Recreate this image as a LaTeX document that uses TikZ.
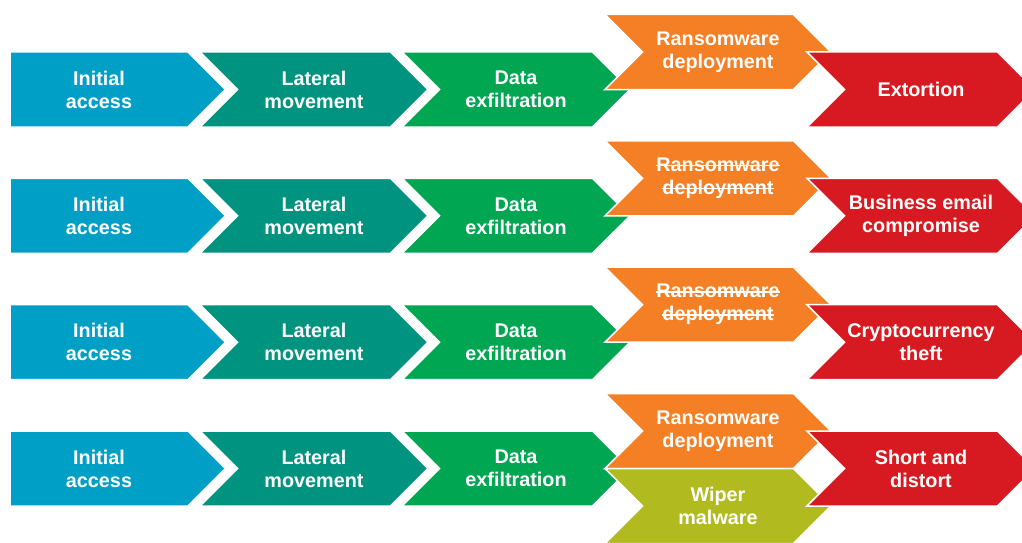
\documentclass[tikz,border=0pt]{standalone}
\usepackage{fontspec}
\setmainfont{Liberation Sans}
\usetikzlibrary{shapes.symbols,positioning}
\definecolor{accessblue}{HTML}{00A0C6}
\definecolor{lateralteal}{HTML}{009480}
\definecolor{exfilgreen}{HTML}{00A651}
\definecolor{ransomorange}{HTML}{F47F24}
\definecolor{impactred}{HTML}{D71A21}
\definecolor{wiperolive}{HTML}{B1BB1F}
\newsavebox{\strikebox}
\newcommand{\struck}[1]{\sbox{\strikebox}{#1}\rlap{\rule[5.2pt]{\wd\strikebox}{1.6pt}}\usebox{\strikebox}}

\begin{document}
\begin{tikzpicture}[
            x=1pt, y=-1pt,
            stage/.style={signal, signal to=east, signal from=west, signal pointer angle=90, minimum height=75pt, minimum width=228pt, inner sep=0pt, outer sep=0pt, draw=white, line width=1.5pt, text=white, align=center, font=\bfseries\fontsize{19.8}{23}\selectfont},
            startstage/.style={stage, signal from=nowhere, minimum width=0pt, text width=178pt, fill=accessblue},
            lateral/.style={stage, fill=lateralteal},
            exfil/.style={stage, fill=exfilgreen},
            ransom/.style={stage, minimum width=226pt, fill=ransomorange},
            wiper/.style={stage, minimum width=226pt, fill=wiperolive},
            impact/.style={stage, fill=impactred}
        ]
        \useasboundingbox (0,0) rectangle (1022,543);
        
        % row 1
        \node[startstage] (init1) at (99,89.5) {Initial\\access};
        \node[lateral] (lat1) at (314,89.5) {Lateral\\movement};
        \node[exfil] (data1) at (516,89.5) {Data\\exfiltration};
        \node[ransom] (ransom1) at (718,52) {Ransomware\\deployment};
        \node[impact] (extortion) at (921,89.5) {Extortion};
        
        % row 2
        \node[startstage] (init2) at (99,215.8) {Initial\\access};
        \node[lateral] (lat2) at (314,215.8) {Lateral\\movement};
        \node[exfil] (data2) at (516,215.8) {Data\\exfiltration};
        \node[ransom] (ransom2) at (718,178.3) {\struck{Ransomware}\\\struck{deployment}};
        \node[impact] (bec) at (921,215.8) {Business email\\compromise};
        
        % row 3
        \node[startstage] (init3) at (99,342.2) {Initial\\access};
        \node[lateral] (lat3) at (314,342.2) {Lateral\\movement};
        \node[exfil] (data3) at (516,342.2) {Data\\exfiltration};
        \node[ransom] (ransom3) at (718,304.7) {\struck{Ransomware}\\\struck{deployment}};
        \node[impact] (crypto) at (921,342.2) {Cryptocurrency\\theft};
        
        % row 4
        \node[startstage] (init4) at (99,468.5) {Initial\\access};
        \node[lateral] (lat4) at (314,468.5) {Lateral\\movement};
        \node[exfil] (data4) at (516,468.5) {Data\\exfiltration};
        \node[ransom] (ransom4) at (718,431) {Ransomware\\deployment};
        \node[wiper] (wiper4) at (718,506) {Wiper\\malware};
        \node[impact] (shortdist) at (921,468.5) {Short and\\distort};
        
        \end{tikzpicture}
\end{document}
